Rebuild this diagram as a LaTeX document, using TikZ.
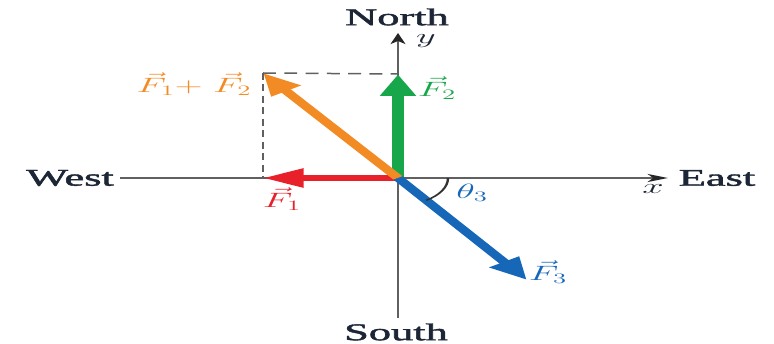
\documentclass[tikz,border=0pt]{standalone}
\usepackage{fontspec}
\setmainfont{Liberation Serif}
\newfontfamily\dirfont[FakeBold=1.5]{Liberation Serif}
\usetikzlibrary{arrows.meta}
\definecolor{cred}{HTML}{E8202A}
\definecolor{cgreen}{HTML}{17A64A}
\definecolor{corange}{HTML}{F38B25}
\definecolor{cblue}{HTML}{1767B8}
\definecolor{caxis}{HTML}{606060}
\definecolor{ctext}{HTML}{1C2636}
\begin{document}
\begin{tikzpicture}[x=1pt,y=-1pt,
  axis/.style={draw=caxis,line width=1.6pt},
  axtip/.style={-{Stealth[length=11pt,width=8pt,inset=3pt,color=black!85]}},
  vec/.style={line width=6pt,-{Triangle[length=22pt,width=18pt]}},
  guide/.style={draw=caxis,line width=1.5pt,dash pattern=on 7pt off 4.5pt},
  dir/.style={font=\fontsize{24}{26}\dirfont,text=ctext,inner sep=1pt},
  lbl/.style={font=\fontsize{20}{22}\selectfont,inner sep=1pt}]
\useasboundingbox (0,0) rectangle (774,344);
\begin{scope}[transform canvas={xscale=1.85},x=0.54054pt]
\coordinate (O) at (398,178);
\coordinate (W) at (120,178);
\coordinate (E) at (668,178);
\coordinate (S) at (398,318);
\coordinate (N) at (398,33);
\coordinate (P1) at (263,178);
\coordinate (P2) at (398,74);
\coordinate (P12) at (263,73);
\coordinate (P3) at (527,280);
\node[dir] (west) at (70,178) {West};
\node[dir] (east) at (717,178) {East};
\node[dir] (north) at (397,17) {North};
\node[dir] (south) at (396,332) {South};
\draw[axis] (W) -- (O);
\draw[axis,axtip] (O) -- (E);
\draw[axis] (O) -- (S);
\draw[axis,axtip] (O) -- (N);
\node[lbl,text=ctext] (xl) at (653,189) {$x$};
\node[lbl,text=ctext] (yl) at (426,41) {$y$};
\draw[guide] (P12) -- (P2);
\draw[guide] (P12) -- (P1);
\draw[vec,cred] (O) -- (P1);
\draw[vec,cgreen] (O) -- (P2);
\draw[vec,corange] (O) -- (P12);
\draw[vec,cblue] (O) -- (P3);
\draw[line width=1.3pt,black!80] ([shift={(50,0)}]O) arc[start angle=0,end angle=-55.8,radius=27pt];
\node[lbl,text=cblue] (th) at (472,193) {$\theta_3$};
\node[lbl,text=cred] (f1) at (282,199) {$\vec{F}_1$};
\node[lbl,text=cgreen] (f2) at (437,88) {$\vec{F}_2$};
\node[lbl,text=corange] (f12) at (194,84) {$\vec{F}_1{+}\;\vec{F}_2$};
\node[lbl,text=cblue] (f3) at (548,272) {$\vec{F}_3$};
\end{scope}
\end{tikzpicture}
\end{document}
